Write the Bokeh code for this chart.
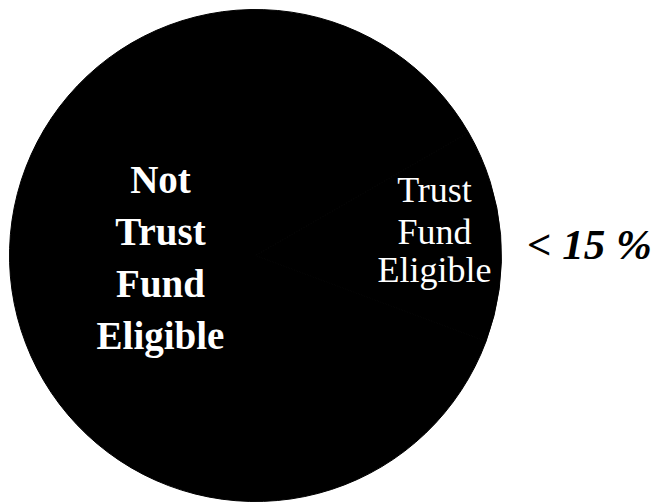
import math
from bokeh.plotting import figure
from bokeh.models import Range1d, ColumnDataSource
from bokeh.core.properties import value
from bokeh.embed import file_html
from bokeh.resources import INLINE

# Data
categories = ["Not\nTrust\nFund\nEligible", "Trust\nFund\nEligible"]
shares = [86, 14]
annotation = "< 15 %"

W, H = 656, 503
p = figure(width=W, height=H, output_backend="svg", toolbar_location=None,
           x_range=Range1d(0, W), y_range=Range1d(0, H), min_border=0)
p.axis.visible = False
p.grid.visible = False
p.outline_line_color = None
p.background_fill_color = "white"
p.border_fill_color = "white"

# pie geometry (page px -> data: y = H - page_y)
cx, cy, r = 255, H - 255, 246
total = sum(shares)
order = [1, 0]  # Trust slice on the right, ending at ~30 deg
cur = math.radians(30) - 2 * math.pi * shares[1] / total
starts, ends = [], []
for i in order:
    span = 2 * math.pi * shares[i] / total
    starts.append(cur)
    ends.append(cur + span)
    cur += span
src = ColumnDataSource(dict(start=starts, end=ends, cat=[categories[i] for i in order]))
p.wedge(x=cx, y=cy, radius=r, start_angle="start", end_angle="end",
        fill_color="black", line_color="black", line_width=1, source=src)

shift = 14  # rendered baseline offset correction

# labels
left_lines = categories[0].split("\n")
left_base = [193, 245, 297, 349]
p.text(x=[160] * len(left_lines), y=[H - b + shift for b in left_base], text=left_lines,
       text_font=value("Liberation Serif"), text_font_style="bold",
       text_font_size="39px", text_color="white", text_align="center",
       text_baseline="alphabetic")

right_lines = categories[1].split("\n")
right_base = [203, 245, 283]
p.text(x=[434] * len(right_lines), y=[H - b + shift for b in right_base], text=right_lines,
       text_font=value("Liberation Serif"), text_font_size="36px",
       text_color="white", text_align="center", text_baseline="alphabetic")

p.text(x=[589], y=[H - 258 + shift], text=[annotation],
       text_font=value("Liberation Serif"), text_font_style="bold italic",
       text_font_size="43px", text_color="black", text_align="center",
       text_baseline="alphabetic")

open("out.html", "w").write(file_html(p, INLINE))
